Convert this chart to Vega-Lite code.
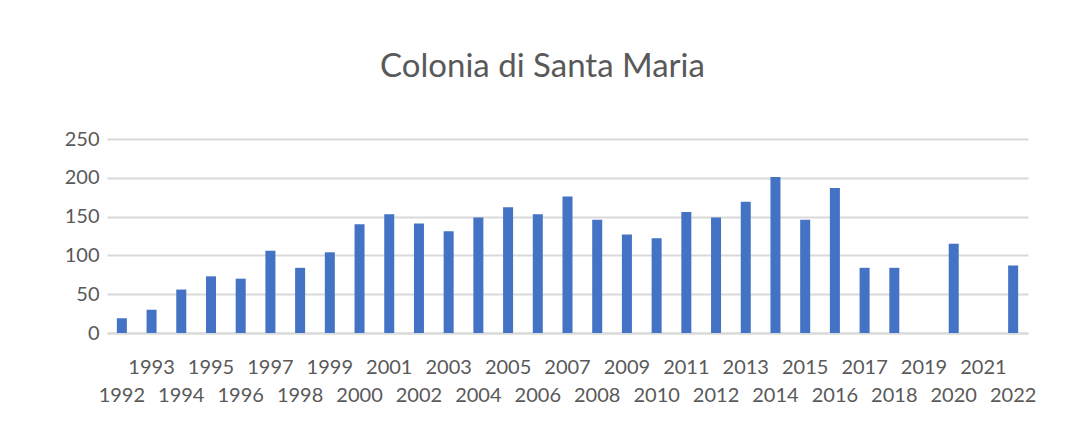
{
  "$schema": "https://vega.github.io/schema/vega-lite/v6.json",
  "autosize": "none",
  "width": 921,
  "height": 194,
  "padding": {"left": 107, "top": 139, "right": 41, "bottom": 108},
  "background": "white",
  "title": {
    "text": "Colonia di Santa Maria",
    "font": "Lato",
    "fontSize": 33,
    "fontWeight": "normal",
    "color": "#595959",
    "anchor": "middle",
    "baseline": "alphabetic",
    "offset": 19,
    "dx": -25
  },
  "data": {
    "values": [
      {"year": "1992", "value": 19},
      {"year": "1993", "value": 30},
      {"year": "1994", "value": 56},
      {"year": "1995", "value": 73},
      {"year": "1996", "value": 70},
      {"year": "1997", "value": 106},
      {"year": "1998", "value": 84},
      {"year": "1999", "value": 104},
      {"year": "2000", "value": 140},
      {"year": "2001", "value": 153},
      {"year": "2002", "value": 141},
      {"year": "2003", "value": 131},
      {"year": "2004", "value": 149},
      {"year": "2005", "value": 162},
      {"year": "2006", "value": 153},
      {"year": "2007", "value": 176},
      {"year": "2008", "value": 146},
      {"year": "2009", "value": 127},
      {"year": "2010", "value": 122},
      {"year": "2011", "value": 156},
      {"year": "2012", "value": 149},
      {"year": "2013", "value": 169},
      {"year": "2014", "value": 201},
      {"year": "2015", "value": 146},
      {"year": "2016", "value": 187},
      {"year": "2017", "value": 84},
      {"year": "2018", "value": 84},
      {"year": "2019", "value": 0},
      {"year": "2020", "value": 115},
      {"year": "2021", "value": 0},
      {"year": "2022", "value": 87}
    ]
  },
  "mark": {"type": "bar", "color": "#4472C4"},
  "encoding": {
    "x": {
      "field": "year",
      "type": "ordinal",
      "scale": {"paddingInner": 0.663, "paddingOuter": 0.3315},
      "axis": {
        "title": null,
        "labelAngle": 0,
        "labelFont": "Lato",
        "labelFontSize": 20,
        "labelColor": "#595959",
        "labelOverlap": false,
        "labelBound": false,
        "labelBaseline": "top",
        "labelPadding": {"condition": {"test": "toNumber(datum.value) % 2 == 0", "value": 52}, "value": 24},
        "ticks": false,
        "domain": true,
        "domainColor": "#D9D9D9",
        "domainWidth": 2
      }
    },
    "y": {
      "field": "value",
      "type": "quantitative",
      "scale": {"domain": [0, 250]},
      "axis": {
        "title": null,
        "values": [0, 50, 100, 150, 200, 250],
        "labelFont": "Lato",
        "labelFontSize": 20,
        "labelColor": "#595959",
        "labelPadding": 8,
        "ticks": false,
        "domain": false,
        "grid": true,
        "gridColor": "#D9D9D9",
        "gridWidth": 2
      }
    }
  },
  "config": {"view": {"stroke": null}}
}
